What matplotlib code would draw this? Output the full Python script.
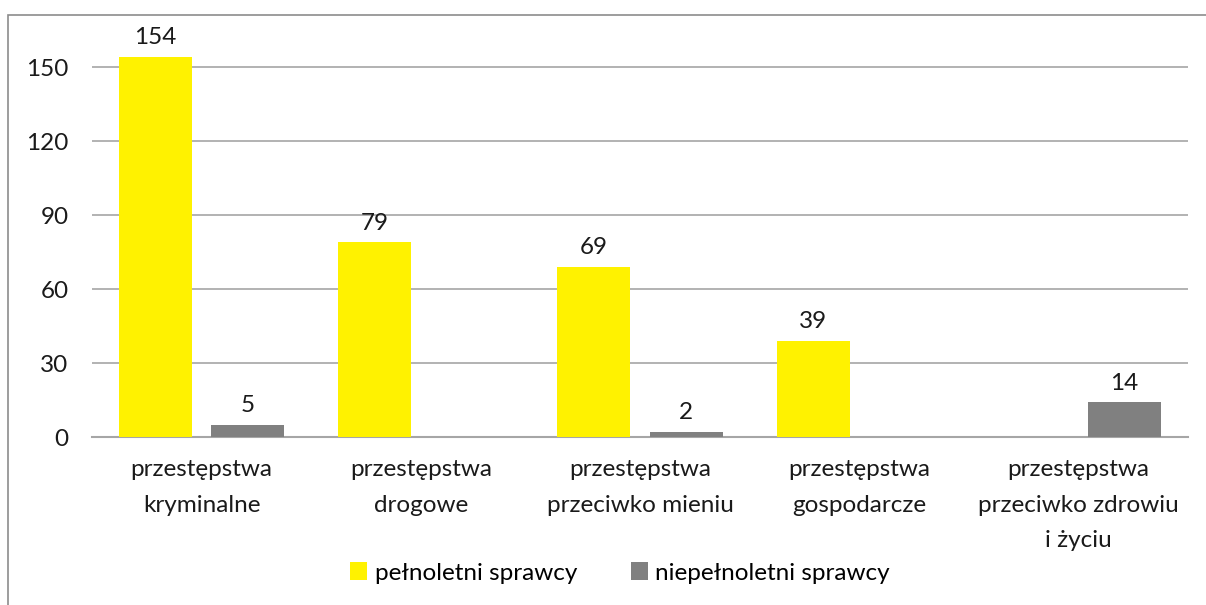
import matplotlib.pyplot as plt
import numpy as np
from matplotlib.patches import Rectangle

plt.rcParams['font.family'] = ['Lato', 'DejaVu Sans']

kategorie = ['przestępstwa\nkryminalne', 'przestępstwa\ndrogowe',
             'przestępstwa\nprzeciwko mieniu', 'przestępstwa\ngospodarcze',
             'przestępstwa\nprzeciwko zdrowiu\ni życiu']
pelnoletni = [154, 79, 69, 39, 0]
niepelnoletni = [5, 0, 2, 0, 14]
yticks = [0, 30, 60, 90, 120, 150]

kolor_p = '#FFF200'
kolor_n = '#808080'
fs = 17.5

fig = plt.figure(figsize=(12.06, 6.05), dpi=100)
# ramka wykresu (przycięta z prawej i z dołu)
fig.patches.append(Rectangle((8 / 1206, -0.1), 1.2, (605 - 15) / 605 + 0.1,
                             transform=fig.transFigure, fill=False,
                             edgecolor='#8c8c8c', linewidth=1.2))

ax = fig.add_axes([92 / 1206, (605 - 437) / 605, 1096 / 1206, 407 / 605])
x = np.arange(len(kategorie))
w = 0.333
off = 0.21
b1 = ax.bar(x - off, pelnoletni, w, color=kolor_p, label='pełnoletni sprawcy', zorder=3)
b2 = ax.bar(x + off, niepelnoletni, w, color=kolor_n, label='niepełnoletni sprawcy', zorder=3)

for bars, vals in ((b1, pelnoletni), (b2, niepelnoletni)):
    for b, v in zip(bars, vals):
        if v:
            ax.text(b.get_x() + b.get_width() / 2, v + 3.5, str(v), ha='center',
                    va='bottom', fontsize=fs, color='#1a1a1a')

ax.set_xlim(-0.5, len(kategorie) - 0.5)
ax.set_ylim(0, 165)
ax.set_yticks(yticks)
ax.set_xticks(x)
ax.set_xticklabels(kategorie, fontsize=fs, color='#1a1a1a', linespacing=1.85)
ax.tick_params(axis='y', labelsize=fs, colors='#1a1a1a', length=0, pad=17)
ax.tick_params(axis='x', length=0, pad=16)
ax.yaxis.grid(True, color='#a6a6a6', linewidth=1.2, zorder=0)
for s in ('top', 'right', 'left'):
    ax.spines[s].set_visible(False)
ax.spines['bottom'].set_color('#a6a6a6')
ax.spines['bottom'].set_linewidth(1.5)

fig.legend(handles=[b1, b2], loc='center', bbox_to_anchor=(620 / 1206, 1 - 573 / 605),
           ncol=2, frameon=False, fontsize=fs, handlelength=0.7, handleheight=0.7,
           handletextpad=0.3, columnspacing=2.2)

fig.savefig('out.png', dpi=100)
